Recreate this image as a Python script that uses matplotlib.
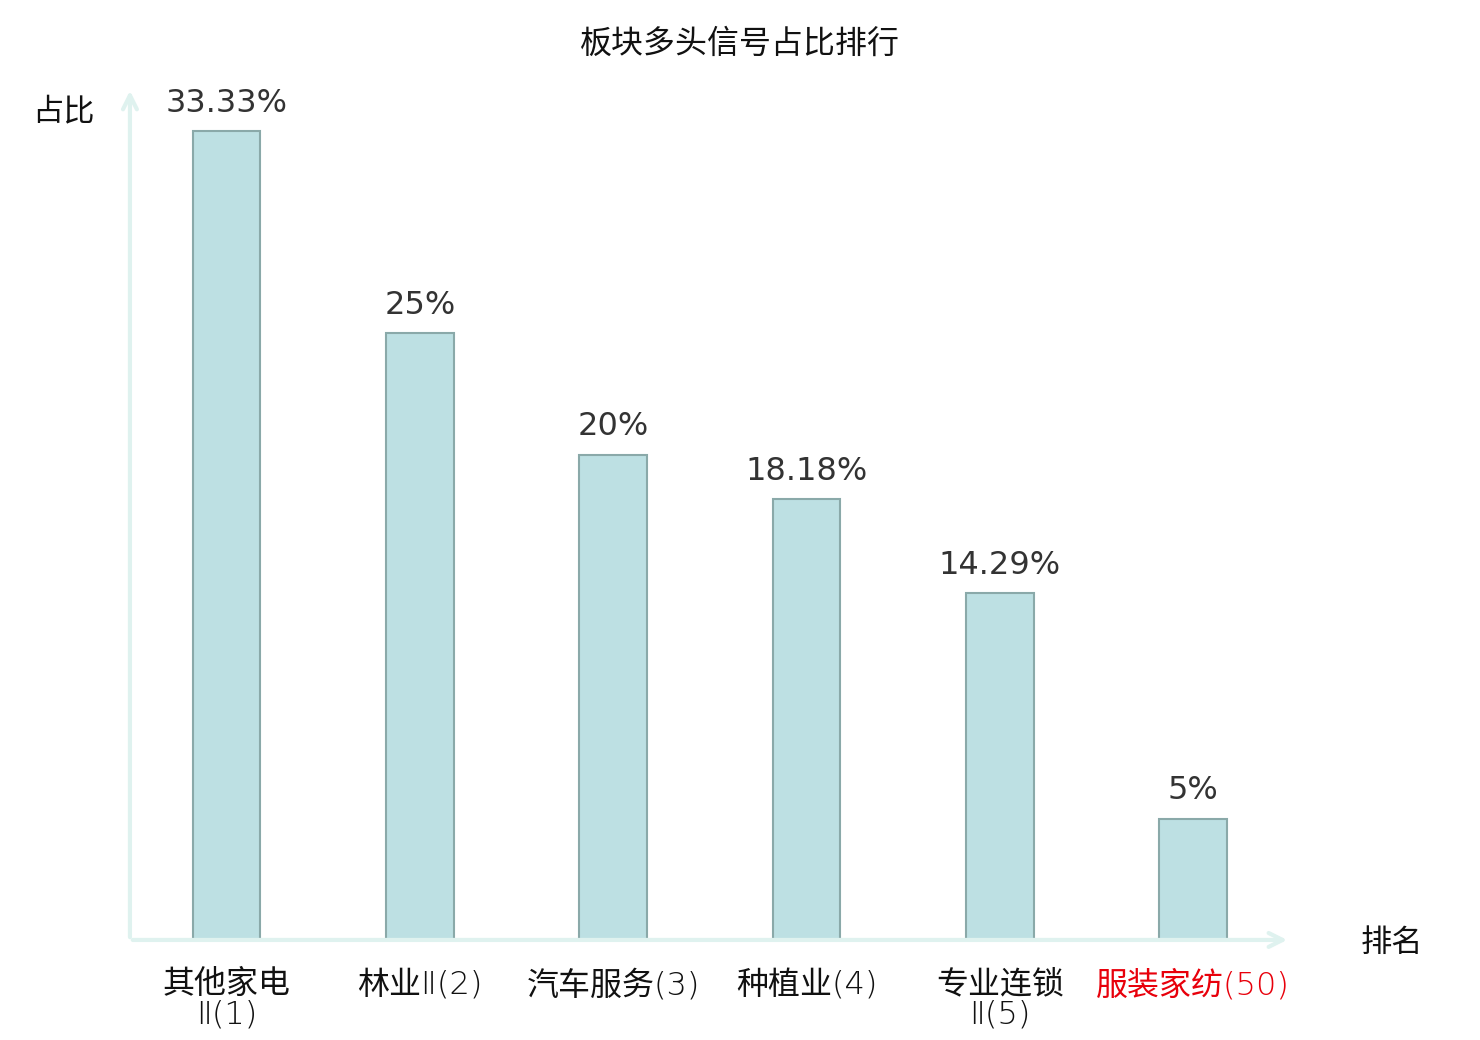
import matplotlib
matplotlib.use('Agg')
import matplotlib.pyplot as plt

plt.rcParams['font.family'] = ['Noto Sans CJK SC', 'DejaVu Sans']

sectors = ['其他家电\nⅡ(1)', '林业Ⅱ(2)', '汽车服务(3)', '种植业(4)', '专业连锁\nⅡ(5)', '服装家纺(50)']
shares = [33.33, 25, 20, 18.18, 14.29, 5]
share_labels = ['33.33%', '25%', '20%', '18.18%', '14.29%', '5%']
label_colors = ['#111111', '#111111', '#111111', '#111111', '#111111', '#e8000b']

fig = plt.figure(figsize=(14.8, 10.4), dpi=100)
ax = fig.add_axes([0.0878, 0.0962, 0.7838, 0.8192])

x = list(range(len(sectors)))
ax.bar(x, shares, width=0.35, color='#bde0e3', edgecolor='#8aa9a9', linewidth=1.5, zorder=2)

for i, v in enumerate(shares):
    ax.text(x[i], v + 0.5, share_labels[i], ha='center', va='bottom',
            fontsize=23, color='#333333', family='DejaVu Sans')

ax.set_xlim(-0.5, 5.5)
ax.set_ylim(0, 35.1)
for s in ax.spines.values():
    s.set_visible(False)
ax.set_yticks([])
ax.set_xticks(x)
ax.set_xticklabels(sectors, fontsize=23, linespacing=1.0,
                   family=['DejaVu Sans', 'Noto Sans CJK SC'], fontweight='light')
for lbl, c in zip(ax.get_xticklabels(), label_colors):
    lbl.set_color(c)
ax.tick_params(axis='x', length=0, pad=21)

axis_col = '#dff2ef'
ax.annotate('', xy=(5.5, 0), xytext=(-0.5, 0), xycoords='data',
            arrowprops=dict(arrowstyle='->,head_length=1.0,head_width=0.5', color=axis_col, lw=3),
            annotation_clip=False)
ax.annotate('', xy=(-0.5, 35.1), xytext=(-0.5, 0), xycoords='data',
            arrowprops=dict(arrowstyle='->,head_length=1.0,head_width=0.5', color=axis_col, lw=3),
            annotation_clip=False)

fig.text(63 / 1480, 1 - 111 / 1040, '占比', ha='center', va='center', fontsize=22.5, color='#111111')
fig.text(1392 / 1480, 1 - 943 / 1040, '排名', ha='center', va='center', fontsize=22.5, color='#111111')
fig.text(0.5, 1 - 44 / 1040, '板块多头信号占比排行', ha='center', va='center', fontsize=23, color='#111111')

fig.savefig('out.png', dpi=100)
